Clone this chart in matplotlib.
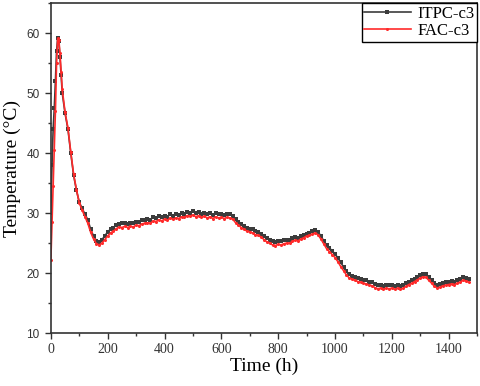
#!/usr/bin/env python3

import matplotlib
matplotlib.use("Agg")
import matplotlib.pyplot as plt
from matplotlib import rcParams
from matplotlib.ticker import MultipleLocator

rcParams['font.family'] = 'sans-serif'
rcParams['font.sans-serif'] = ['Liberation Sans', 'DejaVu Sans']

# time axis (h): finer at the start where the peak is
time_h = [0, 4, 8, 12, 16, 20, 24, 28, 32, 36, 40] + list(range(50, 1480, 10))

itpc_c3 = [
    30.0, 38.0, 44.0, 47.5, 52.0, 57.0, 59.2, 58.6, 56.0, 53.0, 50.0,
    46.6, 44.0, 40.0, 36.3, 33.8, 31.8, 30.8, 29.8, 28.9, 27.3,
    26.2, 25.4, 25.2, 25.6, 26.2, 26.9, 27.3, 27.6, 28.0, 28.2,
    28.3, 28.4, 28.2, 28.4, 28.3, 28.6, 28.5, 28.8, 28.9, 29.0,
    28.9, 29.3, 29.2, 29.5, 29.3, 29.6, 29.4, 29.8, 29.6, 29.8,
    29.7, 30.0, 29.9, 30.2, 30.1, 30.3, 30.0, 30.2, 29.9, 30.1,
    29.8, 30.0, 29.7, 30.0, 29.8, 29.9, 29.7, 29.9, 29.8, 29.6,
    29.0, 28.6, 28.2, 27.9, 27.6, 27.4, 27.3, 27.0, 26.9, 26.6,
    26.2, 25.8, 25.6, 25.3, 25.2, 25.4, 25.3, 25.5, 25.5, 25.6,
    25.8, 26.0, 25.9, 26.2, 26.4, 26.6, 26.7, 27.0, 27.2, 26.9,
    26.2, 25.4, 24.7, 24.2, 23.7, 23.2, 22.5, 21.8, 21.0, 20.3,
    19.8, 19.6, 19.4, 19.2, 19.1, 18.9, 18.8, 18.6, 18.5, 18.2,
    18.0, 18.1, 17.9, 18.1, 18.0, 18.1, 17.9, 18.0, 17.8, 18.0,
    18.3, 18.6, 18.8, 19.1, 19.4, 19.7, 19.9, 19.8, 19.3, 18.8,
    18.3, 18.0, 18.2, 18.4, 18.5, 18.6, 18.7, 18.6, 18.8, 19.0,
    19.3, 19.2, 19.1,
]

fac_c3 = [
    22.2, 28.5, 34.5, 40.5, 47.0, 55.0, 59.1, 58.9, 56.6, 53.5, 50.6,
    46.8, 44.2, 40.2, 36.5, 33.9, 31.7, 30.5, 29.4, 28.3, 26.8,
    25.7, 24.9, 24.7, 25.0, 25.6, 26.2, 26.7, 27.0, 27.4, 27.7,
    27.6, 27.8, 27.6, 27.8, 27.7, 28.0, 27.9, 28.2, 28.3, 28.4,
    28.3, 28.7, 28.6, 28.9, 28.7, 29.0, 28.8, 29.2, 29.0, 29.2,
    29.1, 29.4, 29.3, 29.6, 29.5, 29.7, 29.4, 29.6, 29.3, 29.5,
    29.2, 29.4, 29.1, 29.4, 29.2, 29.3, 29.1, 29.3, 29.2, 29.0,
    28.4, 28.0, 27.6, 27.3, 27.0, 26.9, 26.7, 26.4, 26.3, 26.0,
    25.6, 25.2, 25.0, 24.7, 24.6, 24.8, 24.7, 24.9, 25.0, 25.0,
    25.3, 25.5, 25.4, 25.7, 25.9, 26.2, 26.3, 26.5, 26.7, 26.4,
    25.7, 24.9, 24.1, 23.6, 23.1, 22.6, 21.9, 21.1, 20.4, 19.7,
    19.2, 19.0, 18.8, 18.6, 18.5, 18.3, 18.2, 18.0, 17.9, 17.6,
    17.4, 17.5, 17.3, 17.5, 17.4, 17.5, 17.3, 17.5, 17.3, 17.5,
    17.8, 18.1, 18.3, 18.6, 18.9, 19.2, 19.4, 19.3, 18.8, 18.3,
    17.8, 17.5, 17.7, 17.9, 18.0, 18.1, 18.2, 18.1, 18.3, 18.5,
    18.8, 18.7, 18.5,
]

fig = plt.figure(figsize=(4.8, 3.86), dpi=100)
ax = fig.add_axes([0.106, 0.137, 0.888, 0.855])

ax.plot(time_h, itpc_c3, color='#3c3c3c', lw=1.2, marker='s', ms=2.2,
        mew=0, label='ITPC-c3')
ax.plot(time_h, fac_c3, color='#ff2a2a', lw=1.2, marker='o', ms=2.2,
        mew=0, label='FAC-c3')

ax.set_xlim(0, 1500)
ax.set_ylim(10, 65)
ax.xaxis.set_major_locator(MultipleLocator(200))
ax.xaxis.set_minor_locator(MultipleLocator(100))
ax.yaxis.set_major_locator(MultipleLocator(10))
ax.yaxis.set_minor_locator(MultipleLocator(5))
ax.tick_params(which='both', direction='out', top=False, right=False,
               colors='#333333', width=1.0)
ax.tick_params(which='major', length=4.5)
ax.tick_params(which='minor', length=2.5)
ax.tick_params(axis='y', labelsize=8.5)
ax.tick_params(axis='x', labelsize=10, pad=2.5)
for lab in ax.get_xticklabels():
    lab.set_family('Liberation Serif')
for sp in ax.spines.values():
    sp.set_color('#333333')
    sp.set_linewidth(1.2)

ax.set_xlabel('Time (h)', family='Liberation Serif', fontsize=14, labelpad=1)
ax.set_ylabel('Temperature (\u00b0C)', family='Liberation Serif', fontsize=14,
              labelpad=4)

leg = ax.legend(loc='upper right', borderaxespad=0, fancybox=False,
                edgecolor='black', framealpha=1,
                prop={'family': 'Liberation Serif', 'size': 12},
                handlelength=2.8, handletextpad=0.4, borderpad=0.15,
                labelspacing=0.1, markerscale=1.0)
leg.get_frame().set_linewidth(1.0)

fig.savefig('out.png', dpi=100)
